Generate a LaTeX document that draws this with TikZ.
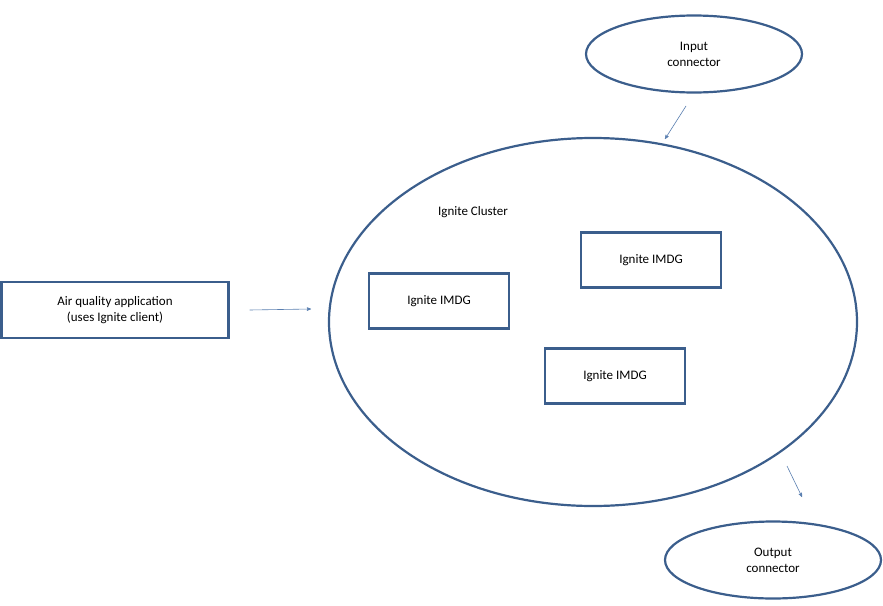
\documentclass[tikz,border=0pt]{standalone}
\usepackage{fontspec}
\setmainfont{Carlito}
\usetikzlibrary{shapes.geometric, arrows}
\definecolor{edge}{HTML}{3B5E8C}
\definecolor{link}{HTML}{5A7FB0}
\tikzstyle{box} = [rectangle, draw=edge, line width=2.2pt, minimum width=140pt, minimum height=55pt, font=\fontsize{13}{16}\selectfont, align=center]
\tikzstyle{port} = [ellipse, draw=edge, line width=2.2pt, minimum width=216pt, minimum height=77pt, font=\fontsize{13}{16}\selectfont, align=center]
\tikzstyle{arrow} = [draw=link, line width=0.6pt, ->, >=stealth']

\begin{document}
\begin{tikzpicture}[x=1pt, y=-1pt]
		\useasboundingbox (0,0) rectangle (883,605);

		\node (input) [port] at (694,54) {Input\\connector};
		\node (output) [port] at (773,560) {Output\\connector};
		\node (cluster) [ellipse, draw=edge, line width=2.2pt, minimum width=528pt, minimum height=368pt] at (593,322) {};
		\node (label) [font=\fontsize{13}{16}\selectfont] at (473,212) {Ignite Cluster};

		\node (imdga) [box] at (651,260) {Ignite IMDG};
		\node (imdgb) [box] at (439,301) {Ignite IMDG};
		\node (imdgc) [box] at (615,376) {Ignite IMDG};
		\node (app) [box, minimum width=227pt, minimum height=56pt] at (115,310) {Air quality application\\(uses Ignite client)};

		\coordinate (append) at (311,309);
		\coordinate (instart) at (686,106);
		\coordinate (inend) at (665,139);
		\coordinate (outstart) at (787,466);
		\coordinate (outend) at (802,497);

		\draw[arrow] (app.east) ++(20,0) -- (append);
		\draw[arrow] (instart) -- (inend);
		\draw[arrow] (outstart) -- (outend);
	\end{tikzpicture}
\end{document}
